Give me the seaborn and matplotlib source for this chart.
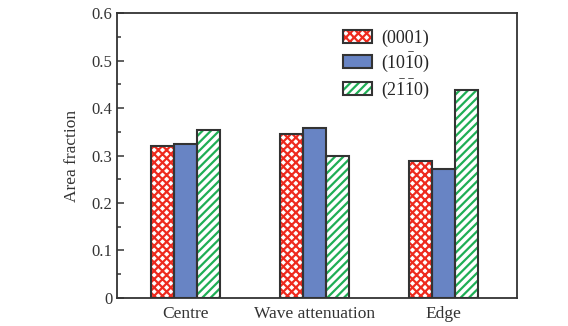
import matplotlib
matplotlib.use("Agg")
import matplotlib.pyplot as plt
import seaborn as sns
import pandas as pd
from matplotlib.patches import Rectangle
from matplotlib.ticker import MultipleLocator

regions = ["Centre", "Wave attenuation", "Edge"]
planes = [r"(0001)", r"(10$\bar{1}$0)", r"(2$\bar{1}\bar{1}$0)"]
basal = [0.320, 0.345, 0.289]
prism = [0.324, 0.357, 0.272]
pyramid = [0.354, 0.298, 0.438]
yticks = [0, 0.1, 0.2, 0.3, 0.4, 0.5, 0.6]
ytick_labels = ["0", "0.1", "0.2", "0.3", "0.4", "0.5", "0.6"]

df = pd.DataFrame({
    "region": regions * 3,
    "plane": [planes[0]] * 3 + [planes[1]] * 3 + [planes[2]] * 3,
    "fraction": basal + prism + pyramid,
})

sns.set_style("ticks")
plt.rcParams["font.family"] = ["Liberation Serif", "DejaVu Serif"]
plt.rcParams["mathtext.fontset"] = "custom"
plt.rcParams["mathtext.rm"] = "Liberation Serif"
plt.rcParams["hatch.linewidth"] = 1.6

fig = plt.figure(figsize=(5.68, 3.26), dpi=100)
ax = fig.add_axes([0.206, 0.086, 0.704, 0.874])

sns.barplot(data=df, x="region", y="fraction", hue="plane", ax=ax,
            width=0.54, gap=0, saturation=1, legend=False)

styles = [("white", "#ee2a1e", "xxxx"), ("#6884c4", "#6884c4", None), ("white", "#1fae55", "////")]
edge = "#333333"
bars = ax.patches[:9]
for i, p in enumerate(bars):
    fc, hc, h = styles[i // 3]
    p.set_facecolor(fc)
    p.set_edgecolor(hc)
    p.set_hatch(h)
    p.set_linewidth(0)
    ax.add_patch(Rectangle(p.get_xy(), p.get_width(), p.get_height(),
                           fill=False, edgecolor=edge, linewidth=1.5, zorder=3))

# legend keys: coloured hatch underneath, dark outline on top
handles = []
for fc, hc, h in styles:
    fill = Rectangle((0, 0), 1, 1, facecolor=fc, edgecolor=hc, hatch=h, linewidth=0)
    box = Rectangle((0, 0), 1, 1, fill=False, edgecolor=edge, linewidth=1.5)
    handles.append((fill, box))
leg = ax.legend(handles, planes, loc="upper left", bbox_to_anchor=(0.525, 1.0),
                frameon=False, fontsize=13, handlelength=1.6, handleheight=0.7,
                labelspacing=0.22, handletextpad=0.5)

ax.set_xlim(-0.53, 2.57)
ax.set_ylim(0, 0.6)
ax.set_yticks(yticks)
ax.set_yticklabels(ytick_labels)
ax.yaxis.set_minor_locator(MultipleLocator(0.05))
ax.tick_params(axis="y", direction="in", length=5, width=1.2, labelsize=12, colors="#444444", labelcolor="#333333")
ax.tick_params(axis="y", which="minor", direction="in", length=3, width=1.2, colors="#444444")
ax.tick_params(axis="x", length=0, labelsize=12.5, pad=6, labelcolor="#333333")
ax.set_xlabel("")
ax.set_ylabel("Area fraction", fontsize=12.5, color="#333333", labelpad=8)
for s in ax.spines.values():
    s.set_linewidth(1.3)
    s.set_color("#333333")

fig.savefig("out.png", dpi=100)
